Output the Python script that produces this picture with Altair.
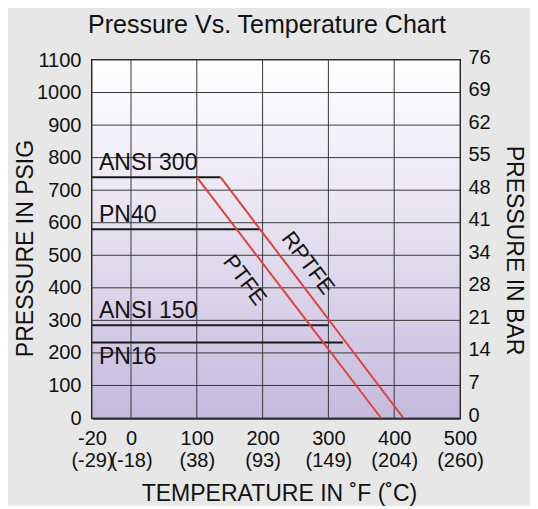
import altair as alt
import pandas as pd

# ---- data ----
ratings = ["ANSI 300", "PN40", "ANSI 150", "PN16"]
rating_psig = [740, 580, 285, 232]
rating_end_f = [136, 196, 300, 322]
rating_start_f = [-20, -20, -20, -20]
label_side = ["above", "above", "above", "below"]

seats = ["PTFE", "RPTFE"]
seat_x1 = [100, 136]
seat_y1 = [740, 740]
seat_x2 = [380, 414]
seat_y2 = [0, 0]
seat_label_x = [173, 269]
seat_label_y = [424, 476]

temp_f_ticks = [-20, 0, 100, 200, 300, 400, 500]
temp_c_labels = ["(-29)", "(-18)", "(38)", "(93)", "(149)", "(204)", "(260)"]
psig_ticks = [0, 100, 200, 300, 400, 500, 600, 700, 800, 900, 1000, 1100]
bar_labels = ["0", "7", "14", "21", "28", "34", "41", "48", "55", "62", "69", "76"]

ratings_df = pd.DataFrame({"name": ratings, "psig": rating_psig, "x0": rating_start_f,
                           "x1": rating_end_f, "side": label_side})
seats_df = pd.DataFrame({"name": seats, "x1": seat_x1, "y1": seat_y1, "x2": seat_x2,
                         "y2": seat_y2, "lx": seat_label_x, "ly": seat_label_y})
vgrid_df = pd.DataFrame({"f": temp_f_ticks})
hgrid_df = pd.DataFrame({"p": psig_ticks})

W, H = 368, 358
FONT = "Liberation Sans"
INK = "#111111"

xscale = alt.Scale(domain=[-20, 0, 500], range=[0, 39, W], nice=False, zero=False)
yscale = alt.Scale(domain=[0, 1100], nice=False, zero=False)

f_map = "{" + ",".join(f"'{f}':['{f}','{c}']" for f, c in zip(temp_f_ticks, temp_c_labels)) + "}"
bar_map = "{" + ",".join(f"'{p}':'{b}'" for p, b in zip(psig_ticks, bar_labels)) + "}"

x_axis = alt.Axis(values=temp_f_ticks, labelExpr=f_map + "[datum.value]", ticks=False,
                  labelFontSize=20, labelFont=FONT, labelColor=INK, labelLineHeight=22,
                  labelPadding=10, labelFlush=False, labelOverlap=False, grid=False,
                  domainColor="#222", domainWidth=2.5,
                  title="TEMPERATURE IN ˚F (˚C)", titleFont=FONT, titleFontSize=23,
                  titleFontWeight="normal", titleColor=INK,
                  titleX=187, titleY=75, titleAlign="center", titleBaseline="middle")

y_left = alt.Axis(values=psig_ticks, format="d", ticks=False, labelFontSize=20, labelFont=FONT,
                  labelColor=INK, labelPadding=11, labelBaseline="middle",
                  grid=False, domain=False,
                  title="PRESSURE IN PSIG", titleFont=FONT, titleFontSize=23,
                  titleFontWeight="normal", titleColor=INK, titleAngle=-90,
                  titleX=-67, titleY=188, titleAlign="center", titleBaseline="middle")

y_right = alt.Axis(orient="right", values=psig_ticks, labelExpr=bar_map + "[datum.value]",
                   ticks=False, labelFontSize=20, labelFont=FONT, labelColor=INK,
                   labelPadding=8, labelBaseline="middle", labelOffset=-3,
                   grid=False, domain=False,
                   title="PRESSURE IN BAR", titleFont=FONT, titleFontSize=23,
                   titleFontWeight="normal", titleColor=INK, titleAngle=90,
                   titleX=53, titleY=190, titleAlign="center", titleBaseline="middle")

bg = alt.Chart(pd.DataFrame({"a": [0]})).mark_rect(
    fill=alt.Gradient(gradient="linear", x1=0, y1=0, x2=0, y2=1,
                      stops=[alt.GradientStop(color="#ffffff", offset=0),
                             alt.GradientStop(color="#e4dff0", offset=0.5),
                             alt.GradientStop(color="#c5badd", offset=1)])
).encode(x=alt.value(0), x2=alt.value("width"), y=alt.value(0), y2=alt.value("height"))

vgrid = alt.Chart(vgrid_df).mark_rule(color="#3a3a3a", strokeWidth=1).encode(
    x=alt.X("f:Q", scale=xscale, axis=x_axis), y=alt.value(0), y2=alt.value("height"))

hgrid = alt.Chart(hgrid_df).mark_rule(color="#3a3a3a", strokeWidth=1).encode(
    y=alt.Y("p:Q", scale=yscale, axis=y_left), x=alt.value(0), x2=alt.value("width"))

hlines = alt.Chart(ratings_df).mark_rule(color="#1a1a1a", strokeWidth=2).encode(
    x=alt.X("x0:Q", scale=xscale, axis=x_axis),
    x2="x1:Q",
    y=alt.Y("psig:Q", scale=yscale, axis=None),
)

seat_lines = alt.Chart(seats_df).mark_rule(color="#e0413a", strokeWidth=2).encode(
    x=alt.X("x1:Q", scale=xscale, axis=x_axis),
    x2="x2:Q",
    y=alt.Y("y1:Q", scale=yscale, axis=y_right),
    y2="y2:Q",
)

rating_text_up = alt.Chart(ratings_df).transform_filter("datum.side == 'above'").mark_text(
    align="left", baseline="middle", dx=7, dy=-14, fontSize=23, font=FONT, color=INK
).encode(x=alt.X("x0:Q", scale=xscale, axis=x_axis),
         y=alt.Y("psig:Q", scale=yscale, axis=None), text="name:N")

rating_text_down = alt.Chart(ratings_df).transform_filter("datum.side == 'below'").mark_text(
    align="left", baseline="middle", dx=7, dy=15, fontSize=23, font=FONT, color=INK
).encode(x=alt.X("x0:Q", scale=xscale, axis=x_axis),
         y=alt.Y("psig:Q", scale=yscale, axis=None), text="name:N")

seat_text = alt.Chart(seats_df).mark_text(
    align="center", baseline="middle", angle=53, fontSize=22, font=FONT, color=INK
).encode(x=alt.X("lx:Q", scale=xscale, axis=x_axis),
         y=alt.Y("ly:Q", scale=yscale, axis=None), text="name:N")

chart = alt.layer(bg, vgrid, hgrid, hlines, seat_lines, rating_text_up, rating_text_down,
                  seat_text).resolve_axis(y="independent").properties(
    width=W, height=H,
    title=alt.TitleParams("Pressure Vs. Temperature Chart", fontSize=25, font=FONT,
                          fontWeight="normal", color=INK, anchor="middle", offset=9, dx=-9),
    autosize=alt.AutoSizeParams(type="none"),
    padding={"left": 84, "top": 52, "right": 70, "bottom": 88},
    background="#e7e7e7",
).configure_view(stroke="#1a1a1a", strokeWidth=2)

chart.save("out.html", embed_options={"renderer": "svg", "actions": False})
